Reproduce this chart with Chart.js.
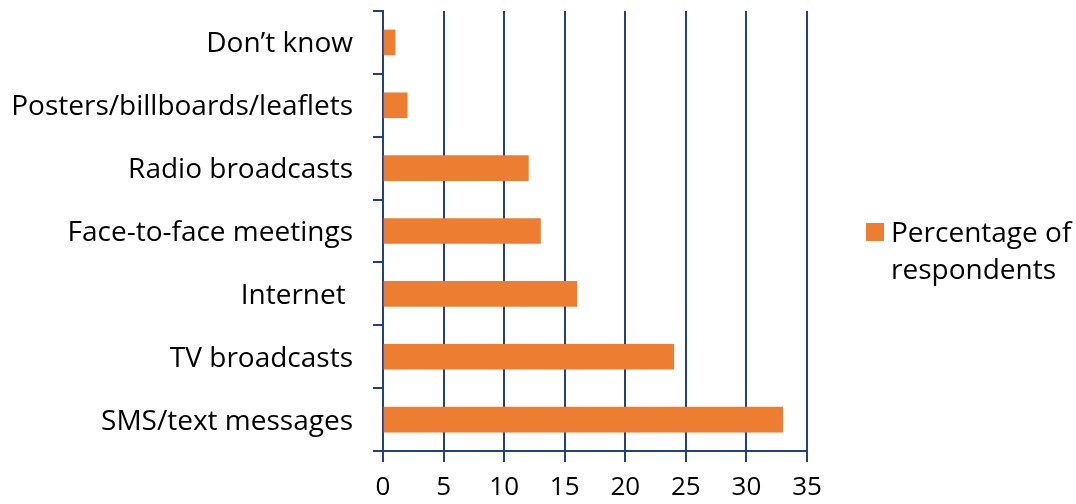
<!DOCTYPE html>
<html>
<head>
<meta charset="utf-8">
<script src="https://cdn.jsdelivr.net/npm/chart.js@4"></script>
<style>
  body { margin: 0; background: #fff; }
  #wrap { position: relative; width: 1076px; height: 504px; }
  #legend {
    position: absolute; left: 866px; top: 213px;
    font-family: "Open Sans", sans-serif; font-size: 28px; line-height: 37px; color: #000;
  }
  #legend .box {
    position: absolute; left: 0; top: 10px; width: 18px; height: 18px;
  }
  #legend .txt { margin-left: 25px; width: 205px; }
</style>
</head>
<body>
<div id="wrap">
  <canvas id="chart" width="1076" height="504"></canvas>
  <div id="legend"></div>
</div>
<script>
// Communication channels, listed top to bottom
const channels = [
  'Don\u2019t know',
  'Posters/billboards/leaflets',
  'Radio broadcasts',
  'Face-to-face meetings',
  'Internet ',
  'TV broadcasts',
  'SMS/text messages'
];
const respondents = [1, 2, 12, 13, 16, 24, 33];
const xTicks = [0, 5, 10, 15, 20, 25, 30, 35];
const seriesName = 'Percentage of respondents';

const navy = '#203f8c';
const orange = '#ed7d31';
const font = '"Open Sans", sans-serif';

const chart = new Chart(document.getElementById('chart'), {
  type: 'bar',
  data: {
    labels: channels,
    datasets: [{
      label: seriesName,
      data: respondents,
      backgroundColor: orange,
      barThickness: 25
    }]
  },
  options: {
    indexAxis: 'y',
    responsive: false,
    animation: false,
    layout: { padding: { top: 11, right: 269, left: 0, bottom: 0 } },
    plugins: {
      legend: { display: false },
      tooltip: { enabled: false }
    },
    scales: {
      x: {
        min: 0,
        max: 35,
        afterBuildTicks: axis => { axis.ticks = xTicks.map(v => ({ value: v })); },
        afterFit: axis => { axis.height = 53; axis.paddingLeft = 0; axis.paddingRight = 0; },
        grid: { color: navy, lineWidth: 2, tickLength: 11, drawOnChartArea: true },
        border: { color: navy, width: 2 },
        ticks: { color: '#000', font: { family: font, size: 26 }, padding: 10 }
      },
      y: {
        afterFit: axis => { axis.width = 383; axis.paddingTop = 0; axis.paddingBottom = 0; },
        grid: { color: navy, lineWidth: 2, tickLength: 10, drawOnChartArea: false, offset: true },
        border: { color: navy, width: 2 },
        ticks: { color: '#000', font: { family: font, size: 28 }, padding: 20, labelOffset: 2 }
      }
    }
  }
});

// legend with the series name wrapped over two lines
const legend = document.getElementById('legend');
legend.innerHTML = '<div class="box" style="background:' + orange + '"></div>' +
  '<div class="txt">' + chart.data.datasets[0].label + '</div>';
</script>
</body>
</html>
